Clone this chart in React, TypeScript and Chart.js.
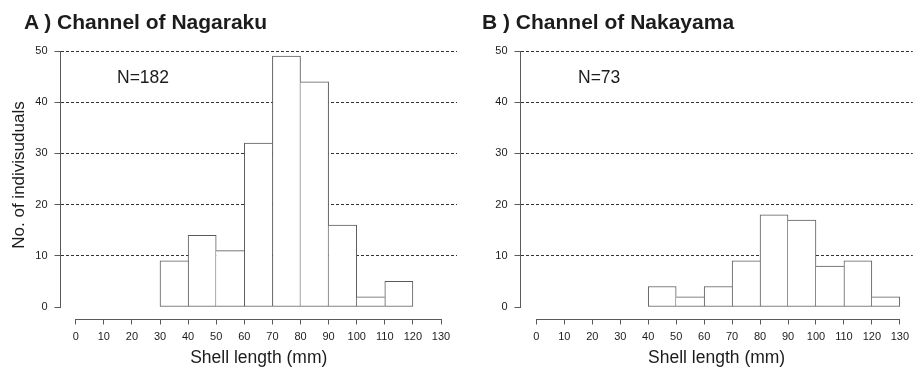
import React, { useEffect, useRef } from "react";
import { Chart, registerables } from "chart.js";

Chart.register(...registerables);

// ---- data ----
const xTicks = [0, 10, 20, 30, 40, 50, 60, 70, 80, 90, 100, 110, 120, 130];
const yTicks = [0, 10, 20, 30, 40, 50];
const binWidth = 10;

const binStartsA = [30, 40, 50, 60, 70, 80, 90, 100, 110];
const countsA = [9, 14, 11, 32, 49, 44, 16, 2, 5];

const binStartsB = [40, 50, 60, 70, 80, 90, 100, 110, 120];
const countsB = [4, 2, 4, 9, 18, 17, 8, 9, 2];

const titleA = "A ) Channel of Nagaraku";
const titleB = "B ) Channel of Nakayama";
const nLabelA = "N=182";
const nLabelB = "N=73";
const xTitle = "Shell length (mm)";
const yTitle = "No. of indivisuduals";

// ---- style ----
const FONT = '"Liberation Sans", Arial, Helvetica, sans-serif';
const TEXT = "#1c1c1c";
const LINE = "#5a5a5a";
const GRID = "#333333";

function alignPx(v: number) {
  return Math.round(v - 0.5) + 0.5;
}

const axesPlugin = {
  id: "detachedAxes",
  afterDraw(chart: any) {
    const { ctx, chartArea, scales } = chart;
    const x = scales.x;
    const y = scales.y;
    ctx.save();
    ctx.strokeStyle = LINE;
    ctx.lineWidth = 1;
    ctx.beginPath();
    const ax = alignPx(chartArea.left);
    ctx.moveTo(ax, alignPx(y.getPixelForValue(yTicks[0])) + 0.5);
    ctx.lineTo(ax, alignPx(y.getPixelForValue(yTicks[yTicks.length - 1])) - 0.5);
    const ay = alignPx(chartArea.bottom);
    ctx.moveTo(alignPx(x.getPixelForValue(xTicks[0])) - 0.5, ay);
    ctx.lineTo(alignPx(x.getPixelForValue(xTicks[xTicks.length - 1])) + 0.5, ay);
    ctx.stroke();
    ctx.restore();
  },
};

function makeChart(
  canvas: HTMLCanvasElement,
  starts: number[],
  counts: number[],
  xMin: number,
  xMax: number
) {
  Chart.defaults.font.family = FONT;
  return new Chart(canvas, {
    type: "bar",
    data: {
      datasets: [
        {
          data: starts.map((s, i) => ({ x: s + binWidth / 2, y: counts[i] })),
          backgroundColor: "#ffffff",
          borderColor: LINE,
          borderSkipped: false,
          barPercentage: 1,
          categoryPercentage: 1,
          borderWidth: (c: any) => {
            const i = c.dataIndex;
            const cur = counts[i];
            const prev = i > 0 ? counts[i - 1] : 0;
            const next = i < counts.length - 1 ? counts[i + 1] : 0;
            return {
              top: 1,
              bottom: 1,
              left: prev <= cur ? 1 : 0,
              right: next < cur ? 1 : 0,
            };
          },
        } as any,
      ],
    },
    options: {
      responsive: false,
      animation: false,
      devicePixelRatio: 1,
      layout: { padding: { left: 0, top: 51, right: 0, bottom: 0 } },
      plugins: {
        legend: { display: false },
        title: { display: false },
        tooltip: { enabled: false },
      },
      scales: {
        x: {
          type: "linear",
          min: xMin,
          max: xMax,
          offset: false,
          afterBuildTicks: (s: any) => {
            s.ticks = xTicks.map((v) => ({ value: v }));
          },
          afterFit: (s: any) => {
            s.height = 50.5;
          },
          ticks: {
            autoSkip: false,
            maxRotation: 0,
            padding: 6,
            color: TEXT,
            font: { size: 11, family: FONT },
            callback: (v: any) => String(v),
          },
          grid: {
            display: true,
            offset: false,
            drawOnChartArea: false,
            drawTicks: true,
            tickLength: 5,
            tickColor: LINE,
            tickWidth: 1,
          },
          border: { display: false },
          title: {
            display: true,
            text: xTitle,
            color: TEXT,
            font: { size: 17.5, family: FONT },
            padding: { top: 0, bottom: 1 },
          },
        },
        y: {
          type: "linear",
          min: -2.44,
          max: 50,
          afterBuildTicks: (s: any) => {
            s.ticks = yTicks.map((v) => ({ value: v }));
          },
          afterFit: (s: any) => {
            s.width = 60.5;
          },
          ticks: {
            autoSkip: false,
            padding: 7,
            color: TEXT,
            font: { size: 11, family: FONT },
            callback: (v: any) => String(v),
          },
          grid: {
            display: true,
            offset: false,
            drawOnChartArea: true,
            drawTicks: true,
            tickLength: 6,
            tickColor: LINE,
            tickWidth: 1,
            lineWidth: 1,
            color: (c: any) =>
              c.tick && c.tick.value === yTicks[0] ? "rgba(0,0,0,0)" : GRID,
          },
          border: { display: false, dash: [3, 2] },
        },
      },
    } as any,
    plugins: [axesPlugin],
  });
}

const textBase: React.CSSProperties = {
  position: "absolute",
  whiteSpace: "nowrap",
  fontFamily: FONT,
  color: TEXT,
};

export default function App() {
  const refA = useRef<HTMLCanvasElement>(null);
  const refB = useRef<HTMLCanvasElement>(null);

  useEffect(() => {
    const a = makeChart(refA.current!, binStartsA, countsA, -5.41, 135.69);
    const b = makeChart(refB.current!, binStartsB, countsB, -5.69, 134.63);
    return () => {
      a.destroy();
      b.destroy();
    };
  }, []);

  return (
    <div
      style={{
        position: "absolute",
        left: 0,
        top: 0,
        width: 915,
        height: 370,
        background: "#ffffff",
        overflow: "hidden",
      }}
    >
      <canvas
        ref={refA}
        width={457}
        height={370}
        style={{ position: "absolute", left: 0, top: 0 }}
      />
      <canvas
        ref={refB}
        width={455}
        height={370}
        style={{ position: "absolute", left: 460, top: 0 }}
      />
      <div
        style={{
          ...textBase,
          left: 24,
          top: 10.5,
          fontSize: 21,
          lineHeight: "21px",
          fontWeight: "bold",
        }}
      >
        {titleA}
      </div>
      <div
        style={{
          ...textBase,
          left: 482,
          top: 10.5,
          fontSize: 21,
          lineHeight: "21px",
          fontWeight: "bold",
        }}
      >
        {titleB}
      </div>
      <div style={{ ...textBase, left: 117, top: 68.5, fontSize: 17.5, lineHeight: "17.5px" }}>
        {nLabelA}
      </div>
      <div style={{ ...textBase, left: 578, top: 68.5, fontSize: 17.5, lineHeight: "17.5px" }}>
        {nLabelB}
      </div>
      <div
        style={{
          ...textBase,
          left: 19 - 100,
          top: 174.5 - 10,
          width: 200,
          height: 20,
          fontSize: 17,
          lineHeight: "20px",
          textAlign: "center",
          transform: "rotate(-90deg)",
        }}
      >
        {yTitle}
      </div>
    </div>
  );
}
